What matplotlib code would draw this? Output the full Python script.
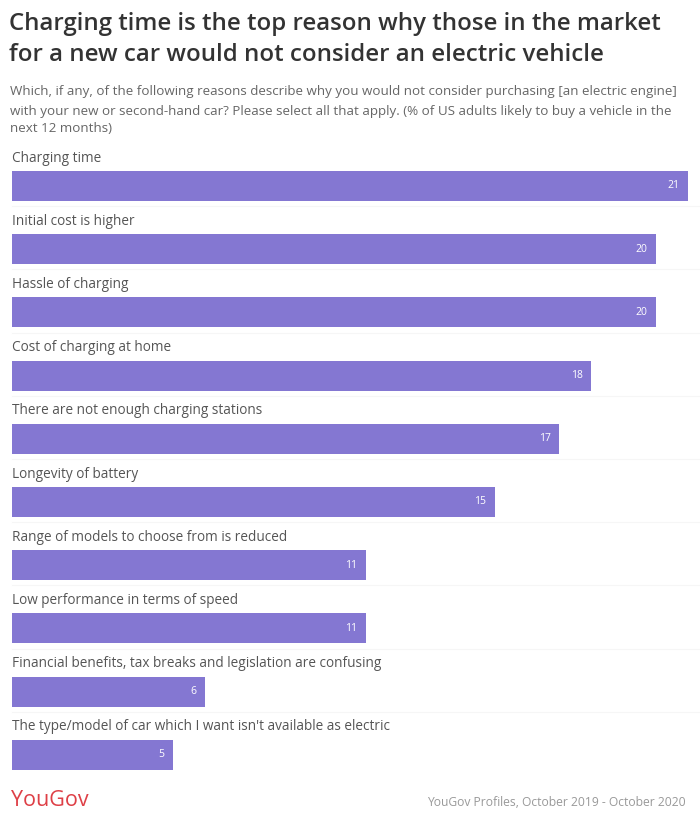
import matplotlib
matplotlib.use("Agg")
import matplotlib.pyplot as plt

categories = [
    "Charging time",
    "Initial cost is higher",
    "Hassle of charging",
    "Cost of charging at home",
    "There are not enough charging stations",
    "Longevity of battery",
    "Range of models to choose from is reduced",
    "Low performance in terms of speed",
    "Financial benefits, tax breaks and legislation are confusing",
    "The type/model of car which I want isn't available as electric",
]
values = [21, 20, 20, 18, 17, 15, 11, 11, 6, 5]

title_lines = ["Charging time is the top reason why those in the market",
               "for a new car would not consider an electric vehicle"]
subtitle_lines = ["Which, if any, of the following reasons describe why you would not consider purchasing [an electric engine]",
                  "with your new or second-hand car? Please select all that apply. (% of US adults likely to buy a vehicle in the",
                  "next 12 months)"]
source = "YouGov Profiles, October 2019 - October 2020"

plt.rcParams['font.family'] = ['Open Sans', 'DejaVu Sans']

W, H = 700, 824
fig = plt.figure(figsize=(W / 100, H / 100), dpi=100)
fig.patch.set_facecolor("white")

bar_color = "#8477d2"
step = 63.2
c0 = 186
top_px = c0 - 0.6 * step
bot_px = c0 + 9 * step + 0.6 * step
left_px, right_px = 12, 688
ax = fig.add_axes([left_px / W, 1 - bot_px / H, (right_px - left_px) / W, (bot_px - top_px) / H])
ax.set_xlim(0, 21)
ax.set_ylim(9.6, -0.6)
ax.axis("off")

ys = list(range(len(categories)))
for y in ys[:-1]:
    ax.axhline(y + 0.32, xmin=0, xmax=1.02, color="#f6f6f6", lw=0.8, clip_on=False)
ax.barh(ys, values, height=30 / step, color=bar_color, edgecolor="none", zorder=2)
for y, v, c in zip(ys, values, categories):
    ax.text(0, y - 0.44, c, ha="left", va="center", fontsize=9.8, color="#555555")
    ax.text(v - 0.27, y, str(v), ha="right", va="center", fontsize=7.5, color="white", zorder=3)

for t, yc in zip(title_lines, [24, 55]):
    fig.text(9 / W, 1 - yc / H, t, ha="left", va="center", fontsize=17.3, fontweight="semibold",
             color="#333333")
for t, yc in zip(subtitle_lines, [92, 111, 129]):
    fig.text(10 / W, 1 - yc / H, t, ha="left", va="center", fontsize=9.6, color="#666666")
fig.text(11 / W, 1 - 800 / H, "YouGov", ha="left", va="center", fontsize=15.5, color="#de3f46")
fig.text(686 / W, 1 - 802 / H, source, ha="right", va="center", fontsize=8.7, color="#999999")

fig.savefig("out.png", dpi=100, facecolor="white")
